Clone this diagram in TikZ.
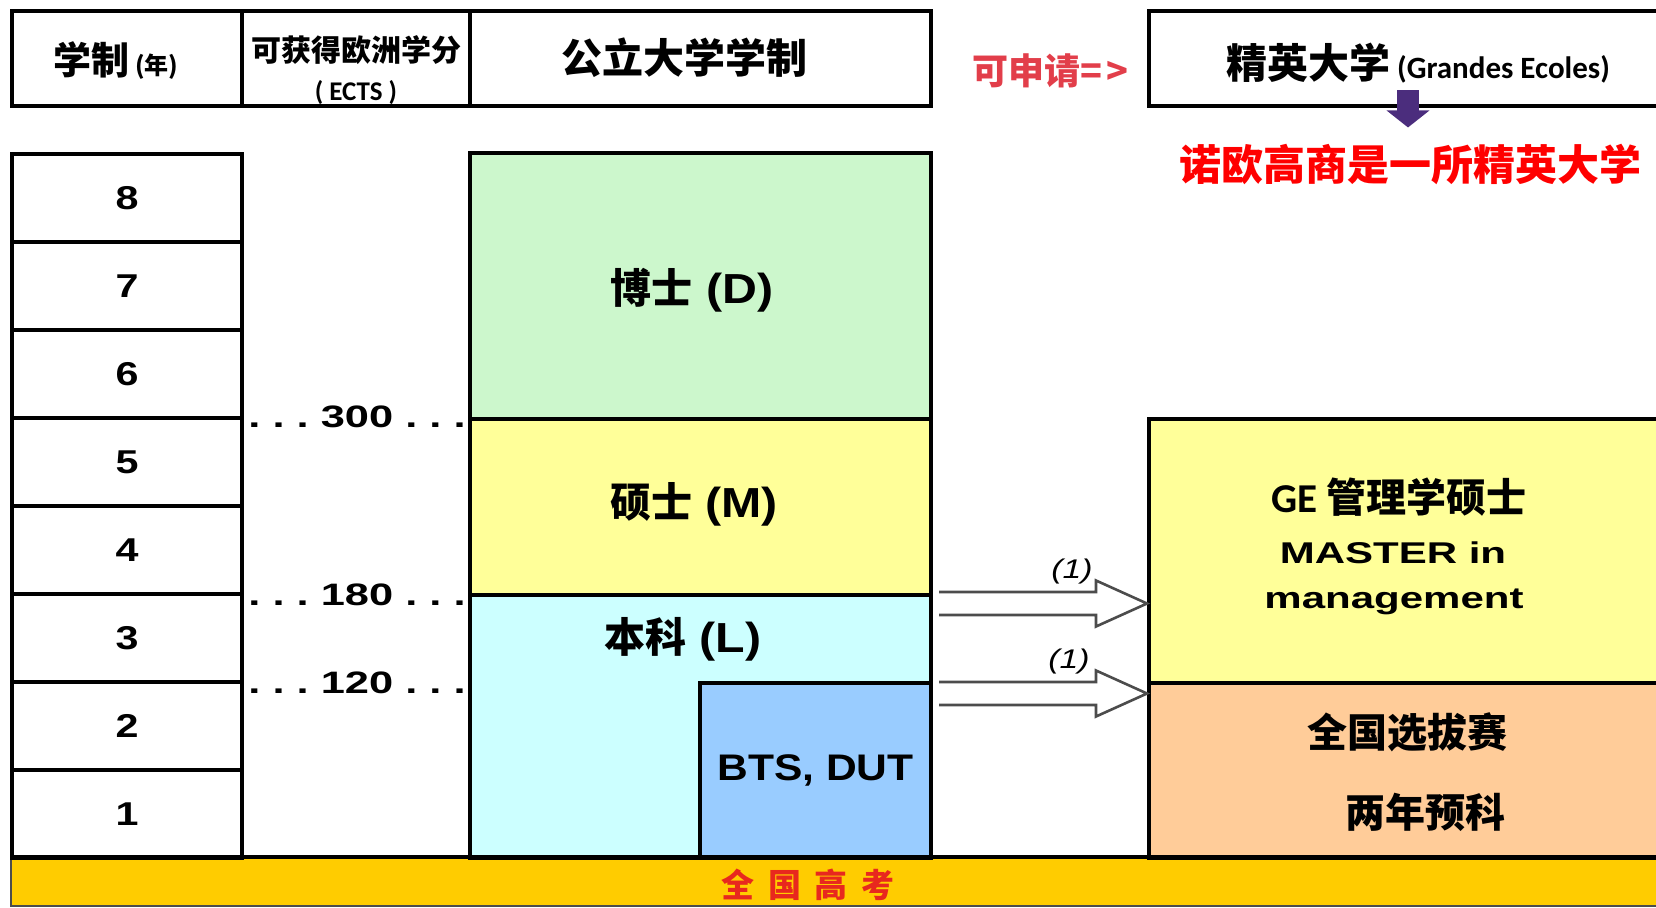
\documentclass[tikz,border=0pt]{standalone}
\usepackage{fontspec}
\setmainfont{Liberation Sans}
\newfontfamily\zh{Noto Sans CJK SC}
\newfontfamily\arialb{Liberation Sans}[FakeStretch=1.15]
\newfontfamily\arialc{Liberation Sans}[FakeStretch=1.25]
\newfontfamily\arialx{Liberation Sans}[FakeStretch=1.4]
\newfontfamily\calb{Carlito}
\usetikzlibrary{arrows.meta,calc}
\newcommand\fsz[1]{\fontsize{#1}{#1}\selectfont}
\definecolor{docgreen}{RGB}{204,247,204}
\definecolor{masyellow}{RGB}{255,255,153}
\definecolor{liccyan}{RGB}{204,255,255}
\definecolor{btsblue}{RGB}{153,204,255}
\definecolor{prepor}{RGB}{255,204,153}
\definecolor{bacgold}{RGB}{255,204,0}
\definecolor{applyred}{RGB}{226,62,74}
\definecolor{bacred}{RGB}{232,40,30}
\definecolor{arrowpurple}{RGB}{75,45,125}

\begin{document}
\begin{tikzpicture}[x=1pt,y=-1pt]
\tikzstyle{cell} = [rectangle, draw=black, line width=4pt, inner sep=0pt, font=\bfseries]
\tikzstyle{txt} = [inner sep=0pt, font=\bfseries]
\tikzstyle{hollow} = [draw=black!70, line width=2.6pt, fill=white]
\tikzstyle{ectsnum} = [txt, anchor=base, font=\bfseries\arialx\fsz{31}]
\useasboundingbox (0,0) rectangle (1656,907);
\clip (0,0) rectangle (1656,907);

% bottom bar
\node[draw=black!70, line width=1.5pt, fill=bacgold, inner sep=0pt,
  minimum width=1649pt, minimum height=48pt] (bac) at (835.5,882) {};
\node[txt, text=bacred] (bactxt) at (808,885)
  {\zh\fsz{33}全\hspace{14pt}国\hspace{14pt}高\hspace{14pt}考};

% header row
\node[cell, minimum width=230pt, minimum height=95pt] (hyear) at (127,58.5) {};
\node[cell, minimum width=228pt, minimum height=95pt] (hects) at (356,58.5) {};
\node[cell, minimum width=461pt, minimum height=95pt] (hpub) at (700.5,58.5) {};
\node[cell, minimum width=521pt, minimum height=95pt] (hge) at (1409.5,58.5) {};
\node[txt] (hyeartxt) at (116,61) {\zh\fsz{38}学制\fsz{24}\ (年)};
\node[txt] (hectstxt) at (356,50) {\zh\fsz{30}可获得欧洲学分};
\node[txt] (hectssub) at (356,93) {\calb\fsz{27}( ECTS )};
\node[txt] (hpubtxt) at (684,58) {\zh\fsz{41}公立大学学制};
\node[txt, text=applyred] (apply) at (1050,71) {\zh\fsz{36}可申请=\kern4pt>};
\node[txt] (hgetxt) at (1418,63) {{\zh\fsz{41}精英大学}{\calb\fsz{31}\ (Grandes Ecoles)}};
\node[txt, text=red] (neoma) at (1410,164) {\zh\fsz{42}诺欧高商是一所精英大学};
\coordinate (pa) at ($(hge.south)+(-1.5,-18)$);
\coordinate (pb) at ($(neoma.north)+(-2,-16)$);
\draw[arrowpurple, line width=22pt, -{Triangle[length=17pt,width=42pt]}] (pa) -- (pb);

% years
\foreach \n in {1,...,8}
  \node[cell, minimum width=230pt, minimum height=88pt] (yr\n) at (127,{858-88*(\n-0.5)})
    {\arialc\fsz{33}\n};

% public university
\node[cell, fill=docgreen, minimum width=461pt, minimum height=266pt] (doc) at (700.5,286) {};
\node[txt] (doctxt) at (692,290) {{\zh\fsz{41}博士}{\arialb\fsz{42}\ (D)}};
\node[cell, fill=masyellow, minimum width=461pt, minimum height=176pt] (mas) at (700.5,507) {};
\node[txt] (mastxt) at (694,504) {{\zh\fsz{41}硕士}{\arialb\fsz{42}\ (M)}};
\node[cell, fill=liccyan, minimum width=461pt, minimum height=263pt] (lic) at (700.5,726.5) {};
\node[txt] (lictxt) at (683,639) {{\zh\fsz{41}本科}{\arialb\fsz{42}\ (L)}};
\node[cell, fill=btsblue, minimum width=231pt, minimum height=175pt] (bts) at (815.5,770.5)
  {\arialb\fsz{37}BTS, DUT};

% ECTS
\node[ectsnum] (e300) at (357,427) {.\ .\ .\ 300\ .\ .\ .};
\node[ectsnum] (e180) at (357,605) {.\ .\ .\ 180\ .\ .\ .};
\node[ectsnum] (e120) at (357,693) {.\ .\ .\ 120\ .\ .\ .};

% grandes ecoles
\node[cell, fill=masyellow, minimum width=521pt, minimum height=264pt] (ge) at (1409.5,551) {};
\node[txt] (getxt) at (1399,497) {{\calb\fsz{41}GE\ }{\zh\fsz{40}管理学硕士}};
\node[txt, anchor=base] (getxt2) at (1393,563) {\arialx\fsz{30}MASTER in};
\node[txt, anchor=base] (getxt3) at (1394,608) {\arialx\fsz{30}management};
\node[cell, fill=prepor, minimum width=521pt, minimum height=175pt] (prep) at (1409.5,770.5) {};
\node[txt] (preptxt) at (1407,732) {\zh\fsz{40}全国选拔赛};
\node[txt] (preptxt2) at (1425,812) {\zh\fsz{40}两年预科};

\draw[line width=4pt] (bac.north west) -- (bac.north east);

% admission arrows
\coordinate (a1) at ($(lic.north east)+(6,10.5)$);
\coordinate (b1) at (ge.west |- a1);
\coordinate (a2) at ($(bts.north east)+(6,12.5)$);
\coordinate (b2) at (prep.west |- a2);
\draw[hollow] ($(a1)+(0,-11.5)$) -- ($(b1)+(-51,-11.5)$) -- ($(b1)+(-51,-23)$) -- (b1)
  -- ($(b1)+(-51,23)$) -- ($(b1)+(-51,11.5)$) -- ($(a1)+(0,11.5)$);
\draw[hollow] ($(a2)+(0,-11.5)$) -- ($(b2)+(-51,-11.5)$) -- ($(b2)+(-51,-23)$) -- (b2)
  -- ($(b2)+(-51,23)$) -- ($(b2)+(-51,11.5)$) -- ($(a2)+(0,11.5)$);
\node[txt, font=\itshape\arialc\fsz{27}] (n1) at (1072,572) {(1)};
\node[txt, font=\itshape\arialc\fsz{27}] (n2) at (1069,662) {(1)};

\end{tikzpicture}
\end{document}
